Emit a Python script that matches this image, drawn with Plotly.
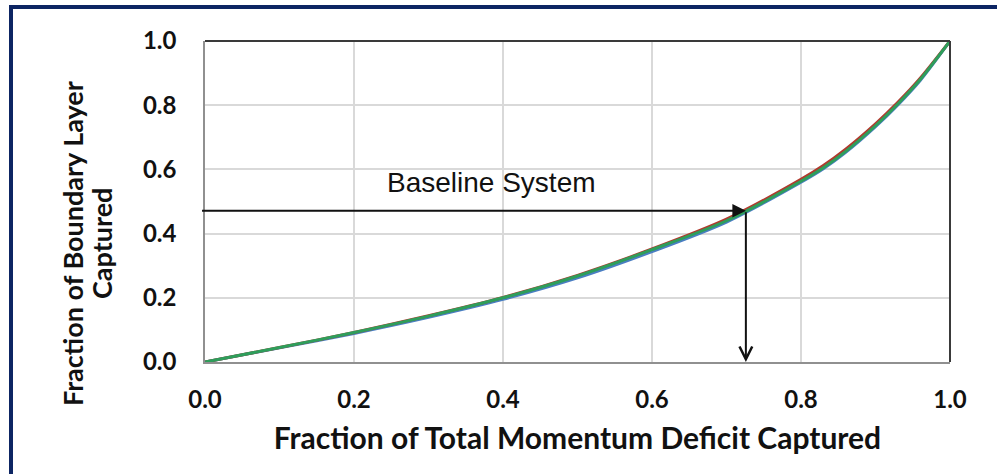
import plotly.graph_objects as go

# Capture curves: fraction of momentum deficit vs fraction of boundary layer
momentum_frac = [0.0, 0.1, 0.2, 0.3, 0.4, 0.5, 0.6, 0.7, 0.8, 0.83, 0.86, 0.9, 0.93, 0.96, 1.0]
bl_frac_blue = [0.0, 0.044, 0.089, 0.139, 0.195, 0.262, 0.344, 0.436, 0.560, 0.602, 0.653, 0.733, 0.801, 0.877, 1.0]
bl_frac_red = [0.0, 0.045, 0.092, 0.144, 0.201, 0.270, 0.352, 0.445, 0.569, 0.612, 0.663, 0.742, 0.809, 0.884, 1.0]
bl_frac_green = [0.0, 0.045, 0.092, 0.143, 0.200, 0.268, 0.350, 0.440, 0.563, 0.605, 0.656, 0.736, 0.804, 0.880, 1.0]

# Baseline operating point
baseline_x = 0.726
baseline_y = 0.471

tick_vals = [0.0, 0.2, 0.4, 0.6, 0.8, 1.0]
tick_text = ["0.0", "0.2", "0.4", "0.6", "0.8", "1.0"]

x_title = "Fraction of Total Momentum Deficit Captured"
y_title_lines = ["Fraction of Boundary Layer", "Captured"]

fig = go.Figure()
for ys, col in [(bl_frac_blue, "#4a7ec2"), (bl_frac_red, "#b03a2e"), (bl_frac_green, "#2e9e5b")]:
    fig.add_trace(go.Scatter(x=momentum_frac, y=ys, mode="lines",
                             line=dict(color=col, width=3, shape="spline", smoothing=0.8),
                             showlegend=False, hoverinfo="skip"))

tick_font = dict(family="Lato", size=24, color="#111111", weight="bold")
title_font = dict(family="Lato", size=30, color="#111111", weight="bold")
ytitle_font = dict(family="Lato", size=27, color="#111111", weight="bold")

fig.update_xaxes(range=[0, 1], tickvals=tick_vals, ticktext=tick_text,
                 showgrid=True, gridcolor="#d9d9d9", gridwidth=1.5,
                 zeroline=False, showline=True, linecolor="#909090", linewidth=1.5,
                 ticks="", ticklabelstandoff=15, tickfont=tick_font,
                 title=dict(text=x_title, font=title_font, standoff=16))
fig.update_yaxes(range=[0, 1], tickvals=tick_vals, ticktext=tick_text,
                 showgrid=True, gridcolor="#d9d9d9", gridwidth=1.5,
                 zeroline=False, showline=True, linecolor="#909090", linewidth=1.5,
                 ticks="", ticklabelstandoff=22, tickfont=tick_font)

L, R, T, B = 205, 47, 41, 112
W, H = 997, 474
pw, ph = W - L - R, H - T - B
def px_x(p):
    return (p - L) / pw
def px_y(p):
    return (H - B - p) / ph

# Two-line rotated y-axis title
for line_text, cx in zip(y_title_lines, [72.5, 101.5]):
    fig.add_annotation(x=px_x(cx), y=px_y(243.5), xref="paper", yref="paper",
                       text=line_text, textangle=-90, showarrow=False,
                       xanchor="center", yanchor="middle", font=ytitle_font)

# Dark top and right edges of the plot frame
fig.add_shape(type="line", xref="paper", yref="paper", x0=0, x1=1, y0=1, y1=1,
              line=dict(color="#3a3a3a", width=2))
fig.add_shape(type="line", xref="paper", yref="paper", x0=1, x1=1, y0=0, y1=1,
              line=dict(color="#3a3a3a", width=2))

# Navy outer frame (top and left edges)
fig.add_shape(type="path", xref="paper", yref="paper",
              path=f"M {px_x(11)} {px_y(480)} L {px_x(11)} {px_y(7)} L {px_x(1005)} {px_y(7)}",
              line=dict(color="#0d2563", width=4))

# Arrows marking the baseline system
fig.add_annotation(x=baseline_x, y=baseline_y, ax=-0.006, ay=baseline_y,
                   xref="x", yref="y", axref="x", ayref="y", text="",
                   showarrow=True, arrowhead=2, arrowsize=1.35, arrowwidth=2,
                   arrowcolor="#111111")
fig.add_annotation(x=baseline_x, y=0.0, ax=baseline_x, ay=baseline_y,
                   xref="x", yref="y", axref="x", ayref="y", text="",
                   showarrow=True, arrowhead=5, arrowsize=1.25, arrowwidth=2,
                   arrowcolor="#111111")
fig.add_annotation(x=0.385, y=0.558, xref="x", yref="y", text="Baseline System",
                   showarrow=False, xanchor="center", yanchor="middle",
                   font=dict(family="Liberation Sans", size=28, color="#111111"))

fig.update_layout(width=W, height=H, margin=dict(l=L, r=R, t=T, b=B),
                  plot_bgcolor="white", paper_bgcolor="white")

fig.write_html("out.html")
